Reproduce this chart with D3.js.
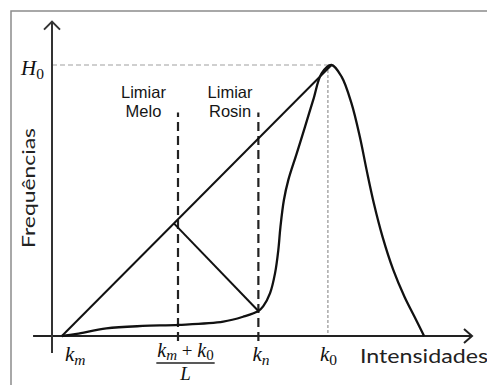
<!DOCTYPE html>
<html>
<head>
<meta charset="utf-8">
<script src="https://cdn.jsdelivr.net/npm/d3@7"></script>
<style>
  html, body { margin: 0; padding: 0; background: #fff; }
  svg { display: block; }
</style>
</head>
<body>
<svg id="chart" width="487" height="385"></svg>
<script>
// Histogram profile: gray-level intensity vs. normalised frequency
const intensity = [6, 15, 33, 55, 77, 104, 116, 125.3, 128.3, 132.4, 135.4, 137.4, 138.7, 140.8, 143.5, 148.6, 153.6, 158.6, 163.7, 169.7, 175.8, 181.8, 186.9, 191.0, 195.4, 200.7, 207.2, 214.0, 220.1, 225.9];
const frequency = [0, 0.008, 0.028, 0.037, 0.041, 0.053, 0.071, 0.092, 0.11, 0.158, 0.231, 0.317, 0.403, 0.502, 0.576, 0.674, 0.772, 0.871, 0.969, 1.0, 0.957, 0.859, 0.735, 0.613, 0.49, 0.366, 0.244, 0.145, 0.071, 0];

// Key intensities
const kMin = 6;          // k_m, first non-empty bin
const kPeak = 169.7;     // position of the histogram maximum
const kZero = 167.5;     // k_0
const kMelo = 76.5;      // Melo threshold
const kRosin = 125.3;    // k_n, Rosin threshold
const kCorner = 74;      // foot of the perpendicular on the km–peak chord
const H0 = 1;

const thresholdNames = [["Limiar", "Melo"], ["Limiar", "Rosin"]];
const axisTitles = { x: "Intensidades", y: "Frequências" };

const svg = d3.select("#chart");
const x = d3.scaleLinear().domain([0, 255]).range([52, 472]);
const y = d3.scaleLinear().domain([0, 1]).range([336, 65]);

const mathFont = "'Liberation Serif', 'DejaVu Serif', serif";

// Outer frame
svg.append("rect")
  .attr("x", 11).attr("y", 11).attr("width", 520).attr("height", 420)
  .attr("fill", "none").attr("stroke", "#8c8c8c").attr("stroke-width", 1.5);

// Reference guides for H0 and k0
svg.append("line")
  .attr("x1", x(0)).attr("x2", x(kPeak))
  .attr("y1", y(H0)).attr("y2", y(H0))
  .attr("stroke", "#a0a0a0").attr("stroke-width", 1.2).attr("stroke-dasharray", "5,3");
svg.append("line")
  .attr("x1", x(kZero)).attr("x2", x(kZero))
  .attr("y1", y(H0)).attr("y2", y(0))
  .attr("stroke", "#a8a8a8").attr("stroke-width", 1.5).attr("stroke-dasharray", "3,2");

// Axes with open arrow heads
const axisColor = "#333";
svg.append("line")
  .attr("x1", x(-11.5)).attr("x2", x(255))
  .attr("y1", y(0)).attr("y2", y(0))
  .attr("stroke", "#222").attr("stroke-width", 2);
svg.append("path")
  .attr("d", `M${x(255) - 8},${y(0) - 7} L${x(255)},${y(0)} L${x(255) - 8},${y(0) + 7}`)
  .attr("fill", "none").attr("stroke", "#222").attr("stroke-width", 2);
svg.append("line")
  .attr("x1", x(0)).attr("x2", x(0))
  .attr("y1", y(-0.063)).attr("y2", y(1.16))
  .attr("stroke", axisColor).attr("stroke-width", 2);
svg.append("path")
  .attr("d", `M${x(0) - 8},${y(1.16) + 8} L${x(0)},${y(1.16)} L${x(0) + 8},${y(1.16) + 8}`)
  .attr("fill", "none").attr("stroke", axisColor).attr("stroke-width", 2);

// Threshold markers
[kMelo, kRosin].forEach(k => {
  svg.append("line")
    .attr("x1", x(k)).attr("x2", x(k))
    .attr("y1", y(-0.018)).attr("y2", y(0.825))
    .attr("stroke", "#222").attr("stroke-width", 2.2).attr("stroke-dasharray", "9,5");
});

// Triangle construction: chord km→peak and the perpendicular down to k_n
const rosinFreq = frequency[intensity.indexOf(kRosin)];
const cornerFreq = (kCorner - kMin) / (kPeak - kMin) * H0;
svg.append("path")
  .attr("d", d3.line()([[x(kMin), y(0)], [x(kPeak), y(H0)]]))
  .attr("stroke", "#111").attr("stroke-width", 2).attr("fill", "none");
svg.append("path")
  .attr("d", d3.line()([[x(kCorner), y(cornerFreq)], [x(kRosin), y(rosinFreq)]]))
  .attr("stroke", "#111").attr("stroke-width", 2).attr("fill", "none");

// Histogram curve
const line = d3.line()
  .x((d, i) => x(intensity[i]))
  .y(d => y(d))
  .curve(d3.curveCatmullRom.alpha(0.5));
svg.append("path")
  .attr("d", line(frequency))
  .attr("fill", "none").attr("stroke", "#111").attr("stroke-width", 2.3)
  .attr("stroke-linejoin", "round");

// Threshold names
const nameFont = "'Liberation Sans', Arial, sans-serif";
[[kMelo, -34.5], [kRosin, -28.3]].forEach(([k, dx], j) => {
  thresholdNames[j].forEach((t, i) => {
    svg.append("text")
      .attr("x", x(k) + dx).attr("y", 98.3 + i * 18.5)
      .attr("text-anchor", "middle")
      .attr("font-family", nameFont).attr("font-size", 16.5).attr("fill", "#151515")
      .text(t);
  });
});

// Math label helper: base letter with subscript
function mathLabel(g, base, sub, subUpright) {
  const t = g.append("text").attr("font-family", mathFont).attr("fill", "#111");
  t.append("tspan").attr("font-style", "italic").attr("font-size", 21).text(base);
  t.append("tspan").attr("font-style", subUpright ? "normal" : "italic")
    .attr("font-size", 15.5).attr("dy", 4).text(sub);
  return t;
}

// H0
mathLabel(svg, "H", "0", true).attr("x", 21).attr("y", 75);

// x tick labels
mathLabel(svg, "k", "m", false).attr("x", x(kMin) + 3).attr("y", 361);
mathLabel(svg, "k", "n", false).attr("x", x(kRosin) - 6).attr("y", 361);
mathLabel(svg, "k", "0", true).attr("x", x(kZero) - 8).attr("y", 361);

// Fraction (km + k0) / L under the Melo threshold
const fracX = x(kMelo) + 7.5;
const num = svg.append("text").attr("font-family", mathFont).attr("fill", "#111")
  .attr("y", 357).attr("text-anchor", "middle").attr("x", fracX);
num.append("tspan").attr("font-style", "italic").attr("font-size", 20).text("k");
num.append("tspan").attr("font-style", "italic").attr("font-size", 15).attr("dy", 3).text("m");
num.append("tspan").attr("font-size", 19).attr("dy", -3).text(" + ");
num.append("tspan").attr("font-style", "italic").attr("font-size", 20).text("k");
num.append("tspan").attr("font-size", 15).attr("dy", 3).text("0");
const nb = num.node().getBBox();
svg.append("line")
  .attr("x1", nb.x - 1).attr("x2", nb.x + nb.width + 1)
  .attr("y1", 363).attr("y2", 363)
  .attr("stroke", "#222").attr("stroke-width", 1.3);
svg.append("text").attr("font-family", mathFont).attr("font-style", "italic")
  .attr("font-size", 19).attr("fill", "#111").attr("text-anchor", "middle")
  .attr("x", fracX).attr("y", 380).text("L");

// Axis titles
const titleFont = "Lato, 'Open Sans', sans-serif";
svg.append("text").attr("x", 360).attr("y", 363)
  .attr("font-family", titleFont).attr("font-size", 19.5).attr("fill", "#222")
  .attr("textLength", 128).attr("lengthAdjust", "spacingAndGlyphs")
  .text(axisTitles.x);
svg.append("text")
  .attr("transform", "translate(35,188) rotate(-90)")
  .attr("text-anchor", "middle")
  .attr("font-family", titleFont).attr("font-size", 17).attr("fill", "#222")
  .attr("textLength", 120).attr("lengthAdjust", "spacingAndGlyphs")
  .text(axisTitles.y);
</script>
</body>
</html>
